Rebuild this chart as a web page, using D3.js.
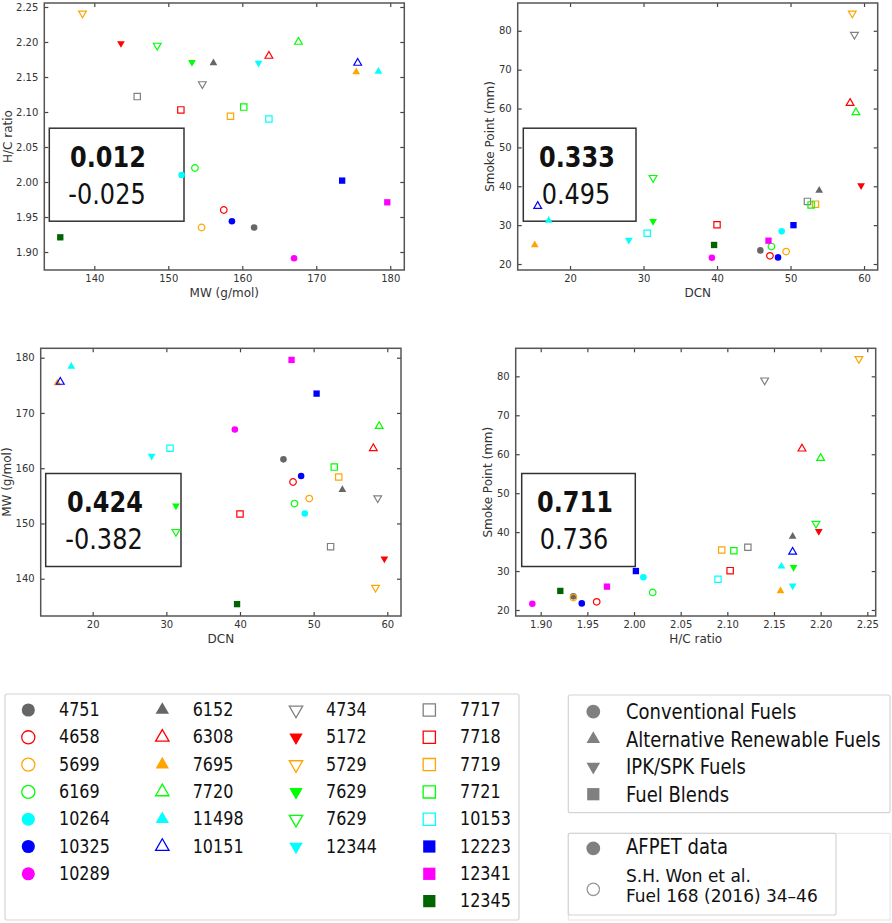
<!DOCTYPE html>
<html>
<head>
<meta charset="utf-8">
<script src="https://cdnjs.cloudflare.com/ajax/libs/d3/7.8.5/d3.min.js"></script>
<style>
  body { margin: 0; background: #fff; }
  svg { font-family: "DejaVu Sans", sans-serif; }
</style>
</head>
<body>
<div id="chart"></div>
<script>
// fuels, in the order of the legend (column by column)
const fuelIds = ["4751", "4658", "5699", "6169", "10264", "10325", "10289",
    "6152", "6308", "7695", "7720", "11498", "10151",
    "4734", "5172", "5729", "7629", "7629", "12344",
    "7717", "7718", "7719", "7721", "10153", "12223", "12341", "12345"];

// conv = conventional, alt = alternative renewable, ipk = IPK/SPK, blend = fuel blends
const fuelTypes = ["conv", "conv", "conv", "conv", "conv", "conv", "conv",
    "alt", "alt", "alt", "alt", "alt", "alt",
    "ipk", "ipk", "ipk", "ipk", "ipk", "ipk",
    "blend", "blend", "blend", "blend", "blend", "blend", "blend", "blend"];

// AFPET = filled marker, Won = open marker
const fuelSource = ["AFPET", "Won", "Won", "Won", "AFPET", "AFPET", "AFPET",
    "AFPET", "Won", "AFPET", "Won", "AFPET", "Won",
    "Won", "AFPET", "Won", "AFPET", "Won", "AFPET",
    "Won", "Won", "Won", "Won", "Won", "AFPET", "AFPET", "AFPET"];

const fuelColors = ["#666666", "#ff0000", "#ffa500", "#00ff00", "#00ffff", "#0000ff", "#ff00ff",
    "#666666", "#ff0000", "#ffa500", "#00ff00", "#00ffff", "#0000ff",
    "#808080", "#ff0000", "#ffa500", "#00ff00", "#00ff00", "#00ffff",
    "#808080", "#ff0000", "#ffa500", "#00ff00", "#00ffff", "#0000ff", "#ff00ff", "#006400"];

const mwValues = [161.6, 157.5, 154.5, 153.6, 151.8, 158.6, 167.0,
    156.1, 163.6, 175.4, 167.6, 178.4, 175.6,
    154.6, 143.6, 138.4, 153.2, 148.5, 162.2,
    145.8, 151.7, 158.4, 160.2, 163.6, 173.5, 179.6, 135.4];

const hcValues = [1.935, 1.960, 1.935, 2.020, 2.010, 1.944, 1.891,
    2.170, 2.180, 2.157, 2.200, 2.158, 2.170,
    2.140, 2.198, 2.241, 2.171, 2.195, 2.170,
    2.122, 2.103, 2.094, 2.107, 2.090, 2.002, 1.971, 1.921];

const dcnValues = [45.9, 47.2, 49.4, 47.4, 48.8, 48.3, 39.3,
    53.9, 58.1, 15.2, 58.9, 17.1, 15.6,
    58.7, 59.6, 58.4, 31.3, 31.3, 28.0,
    52.3, 40.0, 53.4, 52.8, 30.5, 50.4, 47.0, 39.6];

const spValues = [23.5, 22.1, 23.2, 24.5, 28.4, 21.7, 21.6,
    38.9, 61.4, 24.9, 59.0, 31.2, 34.9,
    79.0, 40.2, 84.5, 31.0, 42.2, 26.2,
    36.1, 30.1, 35.4, 35.2, 27.9, 30.0, 26.0, 24.9];

// correlation numbers in the boxes (bold, plain)
const corrBold = ["0.012", "0.333", "0.424", "0.711"];
const corrPlain = ["-0.025", "0.495", "-0.382", "0.736"];

// tick labels
const mwTicks = [140, 150, 160, 170, 180];
const hcTicks = [1.90, 1.95, 2.00, 2.05, 2.10, 2.15, 2.20, 2.25];
const dcnTicks = [20, 30, 40, 50, 60];
const spTicks = [20, 30, 40, 50, 60, 70, 80];

const typeOrder = ["conv", "alt", "ipk", "blend"];
const typeLabels = ["Conventional Fuels", "Alternative Renewable Fuels", "IPK/SPK Fuels", "Fuel Blends"];

const fuels = fuelIds.map((id, i) => ({
    id: id,
    type: fuelTypes[i],
    filled: fuelSource[i] === "AFPET",
    color: fuelColors[i],
    mw: mwValues[i],
    hc: hcValues[i],
    dcn: dcnValues[i],
    sp: spValues[i]
}));

const svg = d3.select("#chart").append("svg")
    .attr("width", 892)
    .attr("height", 923);

const symbolFor = {conv: d3.symbolCircle, alt: d3.symbolTriangle, ipk: d3.symbolTriangle, blend: d3.symbolSquare};
const plotSize = {conv: 34, alt: 26, ipk: 26, blend: 40};
const legendSize = {conv: 135, alt: 78, ipk: 78, blend: 150};

function marker(parent, type, size, filled, color, cx, cy) {
    return parent.append("path")
        .attr("transform", "translate(" + cx + "," + cy + ")" + (type === "ipk" ? " rotate(180)" : ""))
        .attr("d", d3.symbol(symbolFor[type], size)())
        .attr("fill", filled ? color : "none")
        .attr("stroke", filled ? "none" : color)
        .attr("stroke-width", 1.2);
}

// text stretched a bit vertically like in the figure
function addText(parent, x, y, str, size, sy) {
    return parent.append("text")
        .attr("transform", "translate(" + x + "," + y + ") scale(1," + sy + ")")
        .attr("font-size", size)
        .text(str);
}

const panels = [
    {x: "mw", y: "hc", left: 44.3, top: 3, right: 404.3, bottom: 270,
        xDom: [133.24, 181.9], yDom: [1.8743, 2.2557], xTicks: mwTicks, yTicks: hcTicks,
        xFmt: d3.format("d"), yFmt: d3.format(".2f"), xLabel: "MW (g/mol)", yLabel: "H/C ratio",
        yLabelDx: -36, box: {x: 49.3, w: 134.7, tx: 108}},
    {x: "dcn", y: "sp", left: 517.7, top: 3, right: 877.7, bottom: 270,
        xDom: [12.88, 61.86], yDom: [18.46, 87.15], xTicks: dcnTicks, yTicks: spTicks,
        xFmt: d3.format("d"), yFmt: d3.format("d"), xLabel: "DCN", yLabel: "Smoke Point (mm)",
        yLabelDx: -28, box: {x: 523.3, w: 112.7, tx: 577}},
    {x: "dcn", y: "mw", left: 40.7, top: 348.3, right: 401, bottom: 616,
        xDom: [12.94, 61.86], yDom: [133.25, 181.7], xTicks: dcnTicks, yTicks: mwTicks,
        xFmt: d3.format("d"), yFmt: d3.format("d"), xLabel: "DCN", yLabel: "MW (g/mol)",
        yLabelDx: -34, box: {x: 45.7, w: 135.3, tx: 105}},
    {x: "hc", y: "sp", left: 515.7, top: 348.3, right: 875.7, bottom: 616,
        xDom: [1.8732, 2.259], yDom: [18.46, 87.2], xTicks: hcTicks, yTicks: spTicks,
        xFmt: d3.format(".2f"), yFmt: d3.format("d"), xLabel: "H/C ratio", yLabel: "Smoke Point (mm)",
        yLabelDx: -28, box: {x: 521.7, w: 113.6, tx: 575}}
];

panels.forEach(function (p, n) {
    const x = d3.scaleLinear().domain(p.xDom).range([p.left, p.right]);
    const y = d3.scaleLinear().domain(p.yDom).range([p.bottom, p.top]);
    const g = svg.append("g").attr("class", "panel");

    // ticks pointing inwards on all four sides
    g.append("g").attr("transform", "translate(0," + p.bottom + ")")
        .call(d3.axisBottom(x).tickValues(p.xTicks).tickFormat(p.xFmt)
            .tickSizeInner(-4).tickSizeOuter(0).tickPadding(4.5));
    g.append("g").attr("transform", "translate(0," + p.top + ")")
        .call(d3.axisTop(x).tickValues(p.xTicks).tickFormat("")
            .tickSizeInner(-4).tickSizeOuter(0));
    g.append("g").attr("transform", "translate(" + p.left + ",0)")
        .call(d3.axisLeft(y).tickValues(p.yTicks).tickFormat(p.yFmt)
            .tickSizeInner(-4).tickSizeOuter(0).tickPadding(6));
    g.append("g").attr("transform", "translate(" + p.right + ",0)")
        .call(d3.axisRight(y).tickValues(p.yTicks).tickFormat("")
            .tickSizeInner(-4).tickSizeOuter(0));

    g.selectAll(".domain").remove();
    g.selectAll("g > g").attr("font-family", "DejaVu Sans").attr("font-size", 10);
    g.selectAll(".tick line").attr("stroke", "#444").attr("stroke-width", 1.2);
    g.selectAll(".tick text").attr("fill", "#333");

    g.append("rect")
        .attr("x", p.left).attr("y", p.top)
        .attr("width", p.right - p.left).attr("height", p.bottom - p.top)
        .attr("fill", "none").attr("stroke", "#555").attr("stroke-width", 1.5);

    // axis titles
    g.append("text")
        .attr("x", (p.left + p.right) / 2).attr("y", p.bottom + 27)
        .attr("text-anchor", "middle").attr("font-size", 12).attr("fill", "#333")
        .text(p.xLabel);
    g.append("text")
        .attr("transform", "translate(" + (p.left + p.yLabelDx) + "," + ((p.top + p.bottom) / 2) + ") rotate(-90)")
        .attr("text-anchor", "middle").attr("dominant-baseline", "central")
        .attr("font-size", 12).attr("fill", "#333")
        .text(p.yLabel);

    // correlation box
    const boxTop = p.top + 125.2;
    g.append("rect")
        .attr("x", p.box.x).attr("y", boxTop)
        .attr("width", p.box.w).attr("height", 93)
        .attr("fill", "none").attr("stroke", "#333").attr("stroke-width", 1.5);
    addText(g, p.box.tx, boxTop + 38.5, corrBold[n], 24, 1.15)
        .attr("text-anchor", "middle").attr("font-weight", "bold").attr("fill", "#111");
    addText(g, p.box.tx - 1, boxTop + 75.8, corrPlain[n], 24, 1.15)
        .attr("text-anchor", "middle").attr("fill", "#111");

    // points
    fuels.forEach(function (d) {
        marker(g, d.type, plotSize[d.type], d.filled, d.color, x(d[p.x]), y(d[p.y]));
    });
});

// ---- fuel legend ----
const leg1 = svg.append("g");
leg1.append("rect")
    .attr("x", 5).attr("y", 694).attr("width", 514).attr("height", 226)
    .attr("rx", 2).attr("fill", "none").attr("stroke", "#d4d4d4").attr("stroke-width", 1.2);
const colMarkerX = [28.3, 162.3, 296, 429.3];
const colTextX = [59, 192.7, 326, 460];
typeOrder.forEach(function (t, c) {
    fuels.filter(d => d.type === t).forEach(function (d, r) {
        const cy = 710 + r * 27.3;
        marker(leg1, d.type, legendSize[d.type], d.filled, d.color, colMarkerX[c], cy)
            .attr("stroke-width", 1.3);
        addText(leg1, colTextX[c], cy + 6, d.id, 16, 1.22).attr("fill", "#111");
    });
});

// ---- fuel type legend ----
const leg2 = svg.append("g");
leg2.append("rect")
    .attr("x", 568.3).attr("y", 695).attr("width", 321.7).attr("height", 117.7)
    .attr("rx", 2).attr("fill", "none").attr("stroke", "#d4d4d4").attr("stroke-width", 1.2);
typeOrder.forEach(function (t, i) {
    const cy = 711.7 + i * 27.5;
    marker(leg2, t, t === "conv" ? 150 : (t === "blend" ? 150 : 80), true, "#808080", 593.3, cy);
    addText(leg2, 626, cy + 7.6, typeLabels[i], 18, 1.15).attr("fill", "#111");
});

// ---- data source legend ----
const leg3 = svg.append("g");
leg3.append("rect")
    .attr("x", 568.3).attr("y", 833.3).attr("width", 321.7).attr("height", 86.7)
    .attr("fill", "none").attr("stroke", "#e4e4e4").attr("stroke-width", 1);
leg3.append("rect")
    .attr("x", 568.3).attr("y", 833.3).attr("width", 267.7).attr("height", 81.7)
    .attr("rx", 2).attr("fill", "white").attr("stroke", "#d4d4d4").attr("stroke-width", 1.2);
marker(leg3, "conv", 150, true, "#808080", 593.3, 848.3);
addText(leg3, 626, 854.3, "AFPET data", 18, 1.15).attr("fill", "#111");
marker(leg3, "conv", 120, false, "#999999", 593.3, 889.3).attr("stroke-width", 1.3);
addText(leg3, 626, 881.5, "S.H. Won et al.", 17, 1.0).attr("fill", "#111");
addText(leg3, 626, 901.7, "Fuel 168 (2016) 34–46", 17, 1.0).attr("fill", "#111");
</script>
</body>
</html>
